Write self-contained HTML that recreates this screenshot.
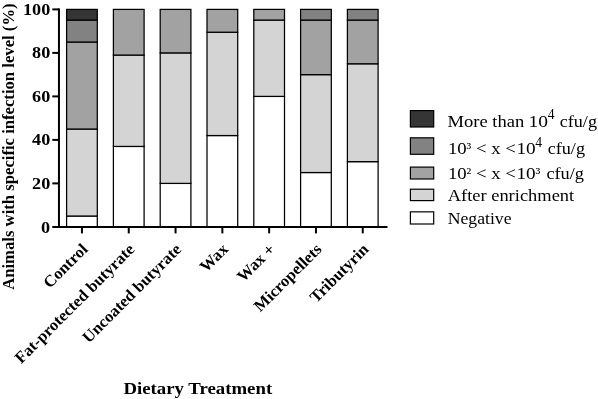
<!DOCTYPE html>
<html><head><meta charset="utf-8"><title>chart</title>
<style>
html,body{margin:0;padding:0;background:#fff;}
body{width:598px;height:399px;overflow:hidden;font-family:"Liberation Serif",serif;}
svg{display:block;will-change:transform;}
text{font-family:"Liberation Serif",serif;fill:#000;white-space:pre;}
.b{font-weight:bold;}
</style></head><body>
<svg width="598" height="399" viewBox="0 0 598 399">
<rect width="598" height="399" fill="#fff"/>

<rect x="66.60" y="216.03" width="30.7" height="10.88" fill="#ffffff" stroke="#000" stroke-width="1.25"/>
<rect x="66.60" y="129.03" width="30.7" height="87.00" fill="#d4d4d4" stroke="#000" stroke-width="1.25"/>
<rect x="66.60" y="42.03" width="30.7" height="87.00" fill="#a2a2a2" stroke="#000" stroke-width="1.25"/>
<rect x="66.60" y="20.06" width="30.7" height="21.97" fill="#828282" stroke="#000" stroke-width="1.25"/>
<rect x="66.60" y="9.40" width="30.7" height="10.66" fill="#353535" stroke="#000" stroke-width="1.25"/>
<rect x="113.40" y="146.43" width="30.7" height="80.47" fill="#ffffff" stroke="#000" stroke-width="1.25"/>
<rect x="113.40" y="55.08" width="30.7" height="91.35" fill="#d4d4d4" stroke="#000" stroke-width="1.25"/>
<rect x="113.40" y="9.40" width="30.7" height="45.67" fill="#a2a2a2" stroke="#000" stroke-width="1.25"/>
<rect x="160.20" y="183.40" width="30.7" height="43.50" fill="#ffffff" stroke="#000" stroke-width="1.25"/>
<rect x="160.20" y="52.90" width="30.7" height="130.50" fill="#d4d4d4" stroke="#000" stroke-width="1.25"/>
<rect x="160.20" y="9.40" width="30.7" height="43.50" fill="#a2a2a2" stroke="#000" stroke-width="1.25"/>
<rect x="207.00" y="135.55" width="30.7" height="91.35" fill="#ffffff" stroke="#000" stroke-width="1.25"/>
<rect x="207.00" y="32.24" width="30.7" height="103.31" fill="#d4d4d4" stroke="#000" stroke-width="1.25"/>
<rect x="207.00" y="9.40" width="30.7" height="22.84" fill="#a2a2a2" stroke="#000" stroke-width="1.25"/>
<rect x="253.80" y="96.40" width="30.7" height="130.50" fill="#ffffff" stroke="#000" stroke-width="1.25"/>
<rect x="253.80" y="20.06" width="30.7" height="76.34" fill="#d4d4d4" stroke="#000" stroke-width="1.25"/>
<rect x="253.80" y="9.40" width="30.7" height="10.66" fill="#a2a2a2" stroke="#000" stroke-width="1.25"/>
<rect x="300.60" y="172.53" width="30.7" height="54.38" fill="#ffffff" stroke="#000" stroke-width="1.25"/>
<rect x="300.60" y="74.65" width="30.7" height="97.88" fill="#d4d4d4" stroke="#000" stroke-width="1.25"/>
<rect x="300.60" y="20.06" width="30.7" height="54.59" fill="#a2a2a2" stroke="#000" stroke-width="1.25"/>
<rect x="300.60" y="9.40" width="30.7" height="10.66" fill="#828282" stroke="#000" stroke-width="1.25"/>
<rect x="347.40" y="161.65" width="30.7" height="65.25" fill="#ffffff" stroke="#000" stroke-width="1.25"/>
<rect x="347.40" y="63.78" width="30.7" height="97.88" fill="#d4d4d4" stroke="#000" stroke-width="1.25"/>
<rect x="347.40" y="20.06" width="30.7" height="43.72" fill="#a2a2a2" stroke="#000" stroke-width="1.25"/>
<rect x="347.40" y="9.40" width="30.7" height="10.66" fill="#828282" stroke="#000" stroke-width="1.25"/>
<line x1="58.95" y1="8.40" x2="58.95" y2="227.90" stroke="#000" stroke-width="2.0"/>
<line x1="52.3" y1="226.9" x2="387.5" y2="226.9" stroke="#000" stroke-width="2.0"/>
<text class="b" x="40.90" y="232.95" font-size="16.0" textLength="9.10" lengthAdjust="spacingAndGlyphs">0</text>
<line x1="52.3" y1="183.40" x2="59" y2="183.40" stroke="#000" stroke-width="2.0"/>
<text class="b" x="32.10" y="188.85" font-size="16.0" textLength="18.20" lengthAdjust="spacingAndGlyphs">20</text>
<line x1="52.3" y1="139.90" x2="59" y2="139.90" stroke="#000" stroke-width="2.0"/>
<text class="b" x="32.10" y="145.35" font-size="16.0" textLength="18.20" lengthAdjust="spacingAndGlyphs">40</text>
<line x1="52.3" y1="96.40" x2="59" y2="96.40" stroke="#000" stroke-width="2.0"/>
<text class="b" x="32.10" y="101.85" font-size="16.0" textLength="18.20" lengthAdjust="spacingAndGlyphs">60</text>
<line x1="52.3" y1="52.90" x2="59" y2="52.90" stroke="#000" stroke-width="2.0"/>
<text class="b" x="32.10" y="58.35" font-size="16.0" textLength="18.20" lengthAdjust="spacingAndGlyphs">80</text>
<line x1="52.3" y1="9.40" x2="59" y2="9.40" stroke="#000" stroke-width="2.0"/>
<text class="b" x="23.00" y="14.85" font-size="16.0" textLength="27.30" lengthAdjust="spacingAndGlyphs">100</text>
<line x1="81.95" y1="226.9" x2="81.95" y2="233.4" stroke="#000" stroke-width="2.0"/>
<g transform="translate(88.65,250.20) rotate(-45)"><text class="b" x="-55.01" y="0.00" font-size="16.3" textLength="55.01" lengthAdjust="spacingAndGlyphs">Control</text></g>
<line x1="128.75" y1="226.9" x2="128.75" y2="233.4" stroke="#000" stroke-width="2.0"/>
<g transform="translate(135.45,250.20) rotate(-45)"><text class="b" x="-161.44" y="0.00" font-size="16.3" textLength="161.44" lengthAdjust="spacingAndGlyphs">Fat-protected butyrate</text></g>
<line x1="175.55" y1="226.9" x2="175.55" y2="233.4" stroke="#000" stroke-width="2.0"/>
<g transform="translate(182.25,250.20) rotate(-45)"><text class="b" x="-132.28" y="0.00" font-size="16.3" textLength="132.28" lengthAdjust="spacingAndGlyphs">Uncoated butyrate</text></g>
<line x1="222.35" y1="226.9" x2="222.35" y2="233.4" stroke="#000" stroke-width="2.0"/>
<g transform="translate(229.05,250.20) rotate(-45)"><text class="b" x="-32.29" y="0.00" font-size="16.3" textLength="32.29" lengthAdjust="spacingAndGlyphs">Wax</text></g>
<line x1="269.15" y1="226.9" x2="269.15" y2="233.4" stroke="#000" stroke-width="2.0"/>
<g transform="translate(275.85,250.20) rotate(-45)"><text class="b" x="-45.89" y="0.00" font-size="16.3" textLength="45.89" lengthAdjust="spacingAndGlyphs">Wax +</text></g>
<line x1="315.95" y1="226.9" x2="315.95" y2="233.4" stroke="#000" stroke-width="2.0"/>
<g transform="translate(322.65,250.20) rotate(-45)"><text class="b" x="-88.17" y="0.00" font-size="16.3" textLength="88.17" lengthAdjust="spacingAndGlyphs">Micropellets</text></g>
<line x1="362.75" y1="226.9" x2="362.75" y2="233.4" stroke="#000" stroke-width="2.0"/>
<g transform="translate(369.45,250.20) rotate(-45)"><text class="b" x="-75.31" y="0.00" font-size="16.3" textLength="75.31" lengthAdjust="spacingAndGlyphs">Tributyrin</text></g>
<g transform="translate(13.7,289.8) rotate(-90)"><text class="b" x="0.00" y="0.00" font-size="16.5" textLength="286.40" lengthAdjust="spacingAndGlyphs">Animals with specific infection level (%)</text></g>
<text class="b" x="123.40" y="393.50" font-size="17.0" textLength="148.80" lengthAdjust="spacingAndGlyphs">Dietary Treatment</text>
<rect x="410.4" y="110.60" width="23.3" height="16.40" fill="#353535" stroke="#000" stroke-width="1.2"/>
<rect x="410.4" y="137.80" width="23.3" height="16.50" fill="#828282" stroke="#000" stroke-width="1.2"/>
<rect x="410.4" y="167.10" width="23.3" height="11.90" fill="#a2a2a2" stroke="#000" stroke-width="1.2"/>
<rect x="410.4" y="189.20" width="23.3" height="11.40" fill="#d4d4d4" stroke="#000" stroke-width="1.2"/>
<rect x="410.4" y="211.85" width="23.3" height="12.15" fill="#ffffff" stroke="#000" stroke-width="1.2"/>
<text x="447.50" y="127.10" font-size="17" textLength="76.80" lengthAdjust="spacingAndGlyphs">More than</text>
<text x="528.50" y="127.10" font-size="17" textLength="19.50" lengthAdjust="spacingAndGlyphs">10</text>
<text x="547.70" y="119.30" font-size="13.6" textLength="6.80" lengthAdjust="spacingAndGlyphs">4</text>
<text x="559.70" y="127.10" font-size="17" textLength="37.30" lengthAdjust="spacingAndGlyphs">cfu/g</text>
<text x="447.90" y="154.40" font-size="17" textLength="68.00" lengthAdjust="spacingAndGlyphs">10<tspan font-size="14.3" dy="-1.5">³</tspan><tspan dy="1.5"> &lt; x &lt;</tspan></text>
<text x="516.45" y="154.40" font-size="17" textLength="19.20" lengthAdjust="spacingAndGlyphs">10</text>
<text x="535.20" y="146.80" font-size="13.6" textLength="6.80" lengthAdjust="spacingAndGlyphs">4</text>
<text x="547.70" y="154.40" font-size="17" textLength="37.30" lengthAdjust="spacingAndGlyphs">cfu/g</text>
<text x="447.90" y="179.10" font-size="17" textLength="68.00" lengthAdjust="spacingAndGlyphs">10<tspan font-size="14.3" dy="-1.5">²</tspan><tspan dy="1.5"> &lt; x &lt;</tspan></text>
<text x="516.45" y="179.10" font-size="17" textLength="24.00" lengthAdjust="spacingAndGlyphs">10<tspan font-size="14.3" dy="-1.5">³</tspan></text>
<text x="546.40" y="179.10" font-size="17" textLength="37.60" lengthAdjust="spacingAndGlyphs">cfu/g</text>
<text x="447.70" y="200.90" font-size="17" textLength="126.50" lengthAdjust="spacingAndGlyphs">After enrichment</text>
<text x="447.70" y="223.60" font-size="17" textLength="63.80" lengthAdjust="spacingAndGlyphs">Negative</text>
</svg></body></html>
